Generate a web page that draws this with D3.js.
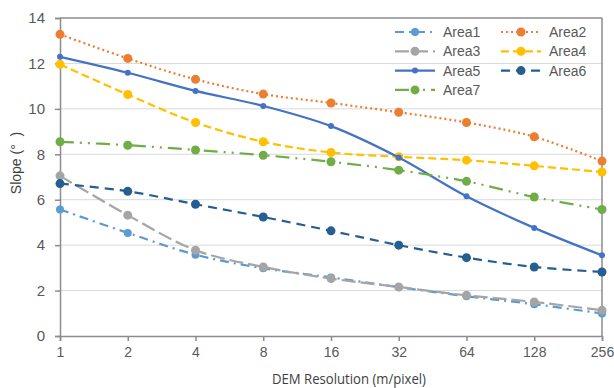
<!DOCTYPE html>
<html>
<head>
<meta charset="utf-8">
<script src="https://cdn.jsdelivr.net/npm/d3@7"></script>
<style>
  body { margin: 0; background: #fff; }
  svg { font-family: "Liberation Sans", Arial, sans-serif; }
</style>
</head>
<body>
<svg id="chart" width="614" height="388"></svg>
<script>
// x categories (DEM resolution, m/pixel)
const resolutions = ["1", "2", "4", "8", "16", "32", "64", "128", "256"];
const yTicks = [0, 2, 4, 6, 8, 10, 12, 14];

// slope values
const area1 = [5.57, 4.54, 3.58, 2.98, 2.58, 2.15, 1.75, 1.40, 0.99];
const area2 = [13.28, 12.22, 11.30, 10.65, 10.26, 9.85, 9.40, 8.77, 7.70];
const area3 = [7.05, 5.32, 3.78, 3.04, 2.53, 2.16, 1.79, 1.50, 1.13];
const area4 = [11.96, 10.63, 9.40, 8.55, 8.08, 7.89, 7.74, 7.49, 7.22];
const area5 = [12.29, 11.59, 10.79, 10.13, 9.24, 7.86, 6.15, 4.76, 3.55];
const area6 = [6.71, 6.37, 5.80, 5.24, 4.63, 4.00, 3.45, 3.04, 2.82];
const area7 = [8.55, 8.40, 8.19, 7.96, 7.67, 7.30, 6.81, 6.12, 5.57];

const series = [
  { name: "Area1", values: area1, color: "#5b9bd5", dash: "9,5,2,5", r: 4 },
  { name: "Area2", values: area2, color: "#ed7d31", dash: "2,3", r: 4.5 },
  { name: "Area3", values: area3, color: "#a5a5a5", dash: "14,5", r: 4.5 },
  { name: "Area4", values: area4, color: "#ffc000", dash: "8,4", r: 4.5 },
  { name: "Area5", values: area5, color: "#4472c4", dash: null, r: 3 },
  { name: "Area6", values: area6, color: "#255e91", dash: "9,6", r: 4.5 },
  { name: "Area7", values: area7, color: "#70ad47", dash: "14,6,2,6,2,6", r: 4.5 }
];

const margin = { top: 18, right: 12, bottom: 52, left: 60 };
const width = 614 - margin.left - margin.right;
const height = 388 - margin.top - margin.bottom;

const svg = d3.select("#chart")
  .append("g")
  .attr("transform", `translate(${margin.left},${margin.top})`);

const x = d3.scalePoint().domain(resolutions).range([0, width]);
const y = d3.scaleLinear().domain([0, 14]).range([height, 0]);

// gridlines
svg.append("g")
  .selectAll("line")
  .data(yTicks.filter(d => d > 0))
  .enter()
  .append("line")
  .attr("x1", 0)
  .attr("x2", width)
  .attr("y1", d => y(d))
  .attr("y2", d => y(d))
  .attr("stroke", d => d === 14 ? "#8c8c8c" : "#d9d9d9")
  .attr("stroke-width", d => d === 14 ? 1.5 : 1);

// right border
svg.append("line")
  .attr("x1", width).attr("x2", width)
  .attr("y1", 0).attr("y2", height)
  .attr("stroke", "#8c8c8c").attr("stroke-width", 1.5);

// axes
const xAxis = svg.append("g")
  .attr("transform", `translate(0,${height})`)
  .call(d3.axisBottom(x).tickSizeOuter(0).tickSize(5).tickPadding(6));
const yAxis = svg.append("g")
  .call(d3.axisLeft(y).tickValues(yTicks).tickSizeOuter(0).tickSize(5).tickPadding(10));

[xAxis, yAxis].forEach(a => {
  a.select(".domain").attr("stroke", "#8c8c8c").attr("stroke-width", 1.5);
  a.selectAll(".tick line").attr("stroke", "#8c8c8c").attr("stroke-width", 1.5);
  a.selectAll(".tick text").attr("fill", "#595959");
});
xAxis.selectAll(".tick text").style("font-size", "14px");
yAxis.selectAll(".tick text").style("font-size", "15px");

// axis titles
svg.append("text")
  .attr("x", 289)
  .attr("y", height + 48)
  .attr("text-anchor", "middle")
  .attr("fill", "#404040")
  .style("font-family", "'Open Sans', sans-serif")
  .style("font-size", "14px")
  .attr("textLength", 154)
  .attr("lengthAdjust", "spacingAndGlyphs")
  .text("DEM Resolution (m/pixel)");

svg.append("text")
  .attr("transform", "rotate(-90)")
  .attr("x", -height / 2 + 14)
  .attr("y", -39)
  .attr("text-anchor", "middle")
  .attr("fill", "#404040")
  .style("font-size", "14px")
  .attr("xml:space", "preserve")
  .text("Slope (°  )");

// lines
const line = d3.line()
  .x((d, i) => x(resolutions[i]))
  .y(d => y(d))
  .curve(d3.curveCatmullRom.alpha(0.5));

series.forEach(s => {
  svg.append("path")
    .datum(s.values)
    .attr("fill", "none")
    .attr("stroke", s.color)
    .attr("stroke-width", 2.2)
    .attr("stroke-dasharray", s.dash)
    .attr("d", line);

  svg.append("g")
    .selectAll("circle")
    .data(s.values)
    .enter()
    .append("circle")
    .attr("cx", (d, i) => x(resolutions[i]))
    .attr("cy", d => y(d))
    .attr("r", s.r)
    .attr("fill", s.color);
});

// legend
const legend = svg.append("g").attr("transform", "translate(335,14)");
series.forEach((s, i) => {
  const col = i % 2, row = Math.floor(i / 2);
  const g = legend.append("g")
    .attr("transform", `translate(${col * 106},${row * 19.3})`);
  g.append("line")
    .attr("x1", 0).attr("x2", 40)
    .attr("y1", 0).attr("y2", 0)
    .attr("stroke", s.color)
    .attr("stroke-width", 2.2)
    .attr("stroke-dasharray", s.dash);
  g.append("circle")
    .attr("cx", 20).attr("cy", 0)
    .attr("r", s.r)
    .attr("fill", s.color);
  g.append("text")
    .attr("x", 48)
    .attr("y", 5)
    .attr("fill", "#595959")
    .style("font-size", "14px")
    .text(s.name);
});
</script>
</body>
</html>
